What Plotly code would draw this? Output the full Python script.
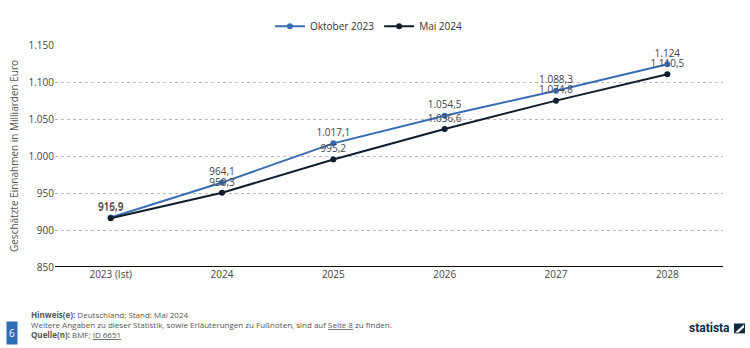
import plotly.graph_objects as go

categories = ["2023 (Ist)", "2024", "2025", "2026", "2027", "2028"]
okt_2023 = [916.9, 964.1, 1017.1, 1054.5, 1088.3, 1124.0]
mai_2024 = [915.9, 950.3, 995.2, 1036.6, 1074.8, 1110.5]
series_names = ["Oktober 2023", "Mai 2024"]
ytick_vals = [850, 900, 950, 1000, 1050, 1100, 1150]
ytick_text = ["850", "900", "950", "1.000", "1.050", "1.100", "1.150"]

BLUE = "#3a6cb4"
DARK = "#0e1e2c"
FONT = "Open Sans"


def de(v):
    if abs(v - round(v)) < 1e-9:
        s = f"{int(round(v)):,}".replace(",", ".")
    else:
        s = f"{v:,.1f}".replace(",", "X").replace(".", ",").replace("X", ".")
    return s


fig = go.Figure()
for name, vals, col in [(series_names[0], okt_2023, BLUE), (series_names[1], mai_2024, DARK)]:
    fig.add_trace(go.Scatter(
        x=categories, y=vals, name=name, mode="lines+markers+text",
        line=dict(color=col, width=2), marker=dict(color=col, size=6),
        text=[de(v) for v in vals], textposition="top center",
        textfont=dict(family=FONT, size=10, color="#444"),
        cliponaxis=False,
    ))

fig.update_layout(
    width=750, height=348,
    margin=dict(l=55, r=27, t=43, b=81),
    paper_bgcolor="white", plot_bgcolor="white",
    font=dict(family=FONT, size=10, color="#444"),
    showlegend=True,
    legend=dict(orientation="h", x=0.47, xanchor="center", y=1.085, yanchor="middle",
                font=dict(size=10, color="#333"), traceorder="normal"),
    xaxis=dict(type="category", range=[-0.5, 5.5], showgrid=False,
               showline=False, ticks="", tickfont=dict(size=10, color="#444"),
               fixedrange=True),
    yaxis=dict(range=[850, 1150], tickvals=ytick_vals, ticktext=ytick_text,
               showgrid=True, gridcolor="#bbbbbb", griddash="dot", gridwidth=1,
               zeroline=False, showline=False, ticks="",
               tickfont=dict(size=10, color="#444"),
               title=dict(text="Geschätzte Einnahmen in Milliarden Euro",
                          font=dict(size=10, color="#555"), standoff=8)),
)

# bottom axis line
fig.add_shape(type="line", xref="paper", yref="y", x0=0, x1=1, y0=850, y1=850,
              line=dict(color="#111", width=2))

# footer helpers (pixel -> paper)
PH = 224.0
PW = 668.0
def py(pix):
    return (267 - pix) / PH
def px(pix):
    return (pix - 55) / PW

footer_lines = [
    "<b>Hinweis(e):</b> Deutschland; Stand: Mai 2024",
    "Weitere Angaben zu dieser Statistik, sowie Erläuterungen zu Fußnoten, sind auf <u>Seite 8</u> zu finden.",
    "<b>Quelle(n):</b> BMF; <u>ID 6651</u>",
]
for i, t in enumerate(footer_lines):
    fig.add_annotation(xref="paper", yref="paper", x=px(29), y=py(315 + 10 * i),
                       xanchor="left", yanchor="middle", showarrow=False, align="left",
                       text=t, font=dict(size=8, color="#555"))

# page number box
fig.add_annotation(xref="paper", yref="paper", x=px(12), y=py(334), xanchor="center",
                   yanchor="middle", showarrow=False, text="6",
                   font=dict(size=10, color="white"), bgcolor="#2f6db5",
                   width=10, height=22, borderpad=0)

# statista logo
fig.add_annotation(xref="paper", yref="paper", x=px(732), y=py(329), xanchor="right",
                   yanchor="middle", showarrow=False, text="<b>statista</b>",
                   font=dict(family="Roboto", size=12, color="#0f2a44"))
fig.add_shape(type="rect", xref="paper", yref="paper", x0=px(734), x1=px(745), y0=py(334), y1=py(324),
              fillcolor="#0f2a44", line=dict(width=0))
fig.add_shape(type="path", xref="paper", yref="paper",
              path=f"M {px(735)},{py(333)} L {px(744)},{py(325)} L {px(744)},{py(328)} L {px(738.5)},{py(333)} Z",
              fillcolor="white", line=dict(width=0))

fig.write_html("out.html")
